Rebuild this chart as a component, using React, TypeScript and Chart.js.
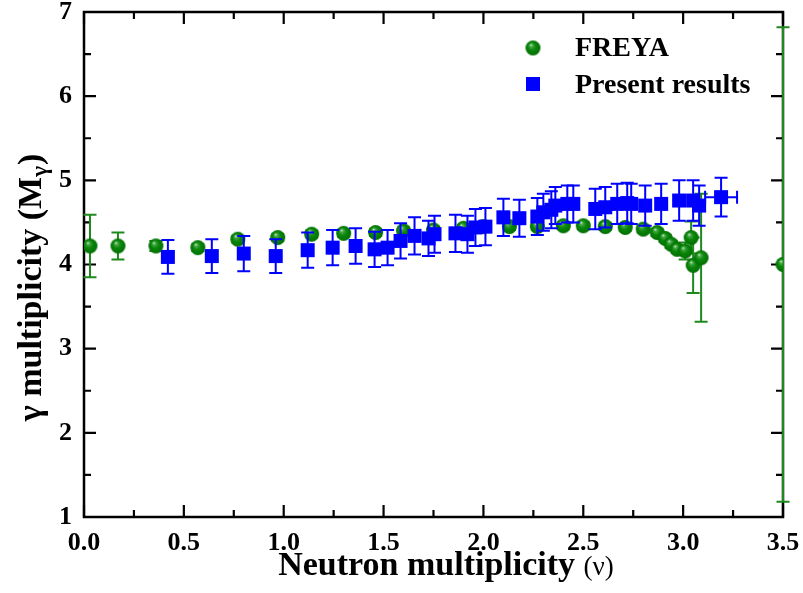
import React, { useEffect, useRef } from "react";
import { Chart, registerables } from "chart.js";

Chart.register(...registerables);

// FREYA (green spheres): x, y, y-error
const freyaX = [0.03, 0.17, 0.36, 0.57, 0.77, 0.97, 1.14, 1.3, 1.46, 1.6, 1.75, 1.9, 2.0, 2.13, 2.27, 2.4, 2.5, 2.61, 2.71, 2.8, 2.87, 2.91, 2.94, 2.97, 3.01, 3.04, 3.05, 3.09, 3.5];
const freyaY = [4.22, 4.22, 4.22, 4.2, 4.3, 4.32, 4.36, 4.37, 4.38, 4.4, 4.41, 4.43, 4.45, 4.45, 4.45, 4.46, 4.46, 4.45, 4.44, 4.42, 4.38, 4.31, 4.24, 4.18, 4.16, 4.32, 3.99, 4.08, 4.0];
const freyaYErr = [0.37, 0.16, 0.06, 0.04, 0.04, 0.04, 0.04, 0.04, 0.04, 0.04, 0.04, 0.04, 0.04, 0.04, 0.04, 0.04, 0.04, 0.04, 0.04, 0.04, 0.04, 0.04, 0.04, 0.04, 0.1, 0.19, 0.33, 0.76, 2.82];

// Present results (blue squares): x, y, x-error, y-error
const presentX = [0.42, 0.64, 0.8, 0.96, 1.12, 1.245, 1.36, 1.455, 1.52, 1.585, 1.655, 1.725, 1.755, 1.86, 1.92, 1.96, 2.01, 2.1, 2.18, 2.27, 2.3, 2.34, 2.36, 2.42, 2.45, 2.56, 2.61, 2.67, 2.72, 2.74, 2.81, 2.89, 2.98, 3.05, 3.08, 3.19];
const presentY = [4.09, 4.1, 4.13, 4.1, 4.17, 4.2, 4.22, 4.18, 4.2, 4.28, 4.34, 4.31, 4.36, 4.37, 4.36, 4.44, 4.45, 4.56, 4.55, 4.57, 4.62, 4.65, 4.7, 4.72, 4.72, 4.66, 4.68, 4.72, 4.73, 4.72, 4.7, 4.72, 4.76, 4.76, 4.7, 4.8];
const presentXErr = [0.02, 0.02, 0.02, 0.02, 0.02, 0.02, 0.02, 0.02, 0.02, 0.02, 0.02, 0.02, 0.02, 0.02, 0.02, 0.02, 0.02, 0.02, 0.02, 0.02, 0.02, 0.02, 0.02, 0.02, 0.02, 0.02, 0.02, 0.02, 0.02, 0.02, 0.02, 0.02, 0.02, 0.02, 0.02, 0.08];
const presentYErr = [0.2, 0.2, 0.21, 0.2, 0.21, 0.21, 0.21, 0.21, 0.21, 0.21, 0.22, 0.21, 0.22, 0.22, 0.22, 0.22, 0.22, 0.22, 0.22, 0.22, 0.22, 0.22, 0.22, 0.22, 0.22, 0.24, 0.24, 0.24, 0.24, 0.24, 0.24, 0.24, 0.24, 0.24, 0.24, 0.23];

const xTicksMajor = [0, 0.5, 1.0, 1.5, 2.0, 2.5, 3.0, 3.5];
const yTicksMajor = [1, 2, 3, 4, 5, 6, 7];

const seriesNames = ["FREYA", "Present results"];

const SERIF = "'Liberation Serif', 'Times New Roman', serif";

function makeSphere(r: number): HTMLCanvasElement {
  const c = document.createElement("canvas");
  const s = Math.ceil(2 * r + 2);
  c.width = s;
  c.height = s;
  const ctx = c.getContext("2d")!;
  const cx = s / 2;
  const cy = s / 2;
  const g = ctx.createRadialGradient(cx - r * 0.3, cy - r * 0.45, 0, cx, cy, r);
  g.addColorStop(0, "#f0f8f0");
  g.addColorStop(0.2, "#4aaa4a");
  g.addColorStop(0.5, "#0c880c");
  g.addColorStop(1, "#006e00");
  ctx.fillStyle = g;
  ctx.beginPath();
  ctx.arc(cx, cy, r, 0, Math.PI * 2);
  ctx.fill();
  return c;
}

function zeroPad(s: any) {
  s.paddingLeft = 0;
  s.paddingRight = 0;
  s.paddingTop = 0;
  s.paddingBottom = 0;
}

export default function App() {
  const ref = useRef<HTMLCanvasElement | null>(null);

  useEffect(() => {
    const canvas = ref.current;
    if (!canvas) return;
    const sphere = makeSphere(7.5);

    const errorBars = {
      id: "errorBars",
      beforeDatasetDraw(chart: any, args: any) {
        const ds: any = chart.data.datasets[args.index];
        const xs = chart.scales.x;
        const ys = chart.scales.y;
        const ctx = chart.ctx;
        ctx.save();
        ctx.strokeStyle = ds.errColor;
        ctx.lineWidth = 2;
        const cap = 6.5;
        ds.data.forEach((p: any, i: number) => {
          const px = xs.getPixelForValue(p.x);
          const py = ys.getPixelForValue(p.y);
          const ye = ds.yErr ? ds.yErr[i] : 0;
          const xe = ds.xErr ? ds.xErr[i] : 0;
          if (ye) {
            const t = ys.getPixelForValue(p.y + ye);
            const b = ys.getPixelForValue(p.y - ye);
            ctx.beginPath();
            ctx.moveTo(px, t);
            ctx.lineTo(px, b);
            ctx.moveTo(px - cap, t);
            ctx.lineTo(px + cap, t);
            ctx.moveTo(px - cap, b);
            ctx.lineTo(px + cap, b);
            ctx.stroke();
          }
          if (xe) {
            const l = xs.getPixelForValue(p.x - xe);
            const r = xs.getPixelForValue(p.x + xe);
            ctx.beginPath();
            ctx.moveTo(l, py);
            ctx.lineTo(r, py);
            ctx.moveTo(l, py - cap);
            ctx.lineTo(l, py + cap);
            ctx.moveTo(r, py - cap);
            ctx.lineTo(r, py + cap);
            ctx.stroke();
          }
        });
        ctx.restore();
      },
    };

    const frame = {
      id: "frame",
      beforeDatasetsDraw(chart: any) {
        const { ctx, chartArea: a } = chart;
        const xs = chart.scales.x;
        const ys = chart.scales.y;
        ctx.save();
        ctx.strokeStyle = "#000";
        ctx.lineWidth = 2.5;
        ctx.beginPath();
        ctx.rect(a.left, a.top, a.right - a.left, a.bottom - a.top);
        ctx.stroke();
        ctx.lineWidth = 2.2;
        ctx.beginPath();
        const major = 12;
        const minor = 7;
        xTicksMajor.forEach((v, i) => {
          const px = xs.getPixelForValue(v);
          ctx.moveTo(px, a.bottom);
          ctx.lineTo(px, a.bottom - major);
          ctx.moveTo(px, a.top);
          ctx.lineTo(px, a.top + major);
          if (i < xTicksMajor.length - 1) {
            const mx = xs.getPixelForValue((v + xTicksMajor[i + 1]) / 2);
            ctx.moveTo(mx, a.bottom);
            ctx.lineTo(mx, a.bottom - minor);
            ctx.moveTo(mx, a.top);
            ctx.lineTo(mx, a.top + minor);
          }
        });
        yTicksMajor.forEach((v, i) => {
          const py = ys.getPixelForValue(v);
          ctx.moveTo(a.left, py);
          ctx.lineTo(a.left + major, py);
          ctx.moveTo(a.right, py);
          ctx.lineTo(a.right - major, py);
          if (i < yTicksMajor.length - 1) {
            const my = ys.getPixelForValue((v + yTicksMajor[i + 1]) / 2);
            ctx.moveTo(a.left, my);
            ctx.lineTo(a.left + minor, my);
            ctx.moveTo(a.right, my);
            ctx.lineTo(a.right - minor, my);
          }
        });
        ctx.stroke();
        ctx.restore();
      },
    };

    const texts = {
      id: "texts",
      afterDraw(chart: any) {
        const ctx = chart.ctx;
        ctx.save();
        ctx.fillStyle = "#000";
        // x title
        ctx.textBaseline = "alphabetic";
        ctx.textAlign = "left";
        const boldX = `bold 34px ${SERIF}`;
        const regX = `27px ${SERIF}`;
        const t1 = "Neutron multiplicity ";
        const t2 = "(\u03bd)";
        ctx.font = boldX;
        const w1 = ctx.measureText(t1).width;
        ctx.font = regX;
        const w2 = ctx.measureText(t2).width;
        const sx = 446 - (w1 + w2) / 2;
        ctx.font = boldX;
        ctx.fillText(t1, sx, 575);
        ctx.font = regX;
        ctx.fillText(t2, sx + w1, 575);

        // y title (rotated)
        ctx.translate(41, 288);
        ctx.rotate(-Math.PI / 2);
        const boldY = `bold 34px ${SERIF}`;
        const subY = `bold 23px ${SERIF}`;
        const p1 = "\u03b3 multiplicity (M";
        const p2 = "\u03b3";
        const p3 = ")";
        ctx.font = boldY;
        const a1 = ctx.measureText(p1).width;
        const a3 = ctx.measureText(p3).width;
        ctx.font = subY;
        const a2 = ctx.measureText(p2).width;
        const yx = -(a1 + a2 + a3) / 2;
        ctx.font = boldY;
        ctx.fillText(p1, yx, 0);
        ctx.font = subY;
        ctx.fillText(p2, yx + a1, 6);
        ctx.font = boldY;
        ctx.fillText(p3, yx + a1 + a2 + 1, 0);
        ctx.restore();

        // legend
        ctx.save();
        ctx.drawImage(sphere, 533 - sphere.width / 2, 48 - sphere.height / 2);
        ctx.fillStyle = "#0000ff";
        ctx.fillRect(526, 77, 14, 14);
        ctx.fillStyle = "#000";
        ctx.font = `bold 28px ${SERIF}`;
        ctx.textBaseline = "middle";
        ctx.textAlign = "left";
        ctx.fillText(seriesNames[0], 575, 49);
        ctx.fillText(seriesNames[1], 575, 86);
        ctx.restore();
      },
    };

    const chart = new Chart(canvas, {
      type: "scatter",
      data: {
        datasets: [
          {
            label: seriesNames[0],
            data: freyaX.map((x, i) => ({ x, y: freyaY[i] })),
            yErr: freyaYErr,
            errColor: "#1e8a1e",
            pointStyle: sphere,
            pointRadius: 7.5,
            order: 2,
            clip: 0,
          } as any,
          {
            label: seriesNames[1],
            data: presentX.map((x, i) => ({ x, y: presentY[i] })),
            xErr: presentXErr,
            yErr: presentYErr,
            errColor: "#0000ff",
            pointStyle: "rect",
            pointRadius: 9.9,
            pointBorderWidth: 0,
            backgroundColor: "#0000ff",
            borderColor: "#0000ff",
            order: 1,
            clip: 0,
          } as any,
        ],
      },
      options: {
        animation: false,
        responsive: false,
        devicePixelRatio: 1,
        layout: { padding: { top: 12, right: 20, left: 0, bottom: 0 } },
        plugins: { legend: { display: false }, tooltip: { enabled: false } },
        scales: {
          x: {
            type: "linear",
            min: 0,
            max: 3.5,
            afterFit: (s: any) => {
              s.height = 76;
              zeroPad(s);
            },
            afterBuildTicks: (s: any) => {
              s.ticks = xTicksMajor.map((v) => ({ value: v }));
            },
            ticks: {
              autoSkip: false,
              maxRotation: 0,
              padding: 13,
              color: "#000",
              font: { family: SERIF, weight: "bold", size: 26, lineHeight: 1 },
              callback: (v: any) => Number(v).toFixed(1),
            },
            grid: { display: false, drawTicks: false },
            border: { display: false },
          },
          y: {
            type: "linear",
            min: 1,
            max: 7,
            afterFit: (s: any) => {
              s.width = 84;
              zeroPad(s);
            },
            afterBuildTicks: (s: any) => {
              s.ticks = yTicksMajor.map((v) => ({ value: v }));
            },
            ticks: {
              autoSkip: false,
              padding: 12,
              color: "#000",
              font: { family: SERIF, weight: "bold", size: 26, lineHeight: 0.9 },
              callback: (v: any) => String(v),
            },
            grid: { display: false, drawTicks: false },
            border: { display: false },
          },
        },
      } as any,
      plugins: [frame, errorBars, texts],
    });

    return () => chart.destroy();
  }, []);

  return (
    <div style={{ position: "fixed", left: 0, top: 0, width: 803, height: 593, background: "#fff" }}>
      <canvas ref={ref} width={803} height={593} style={{ width: 803, height: 593, display: "block" }} />
    </div>
  );
}
